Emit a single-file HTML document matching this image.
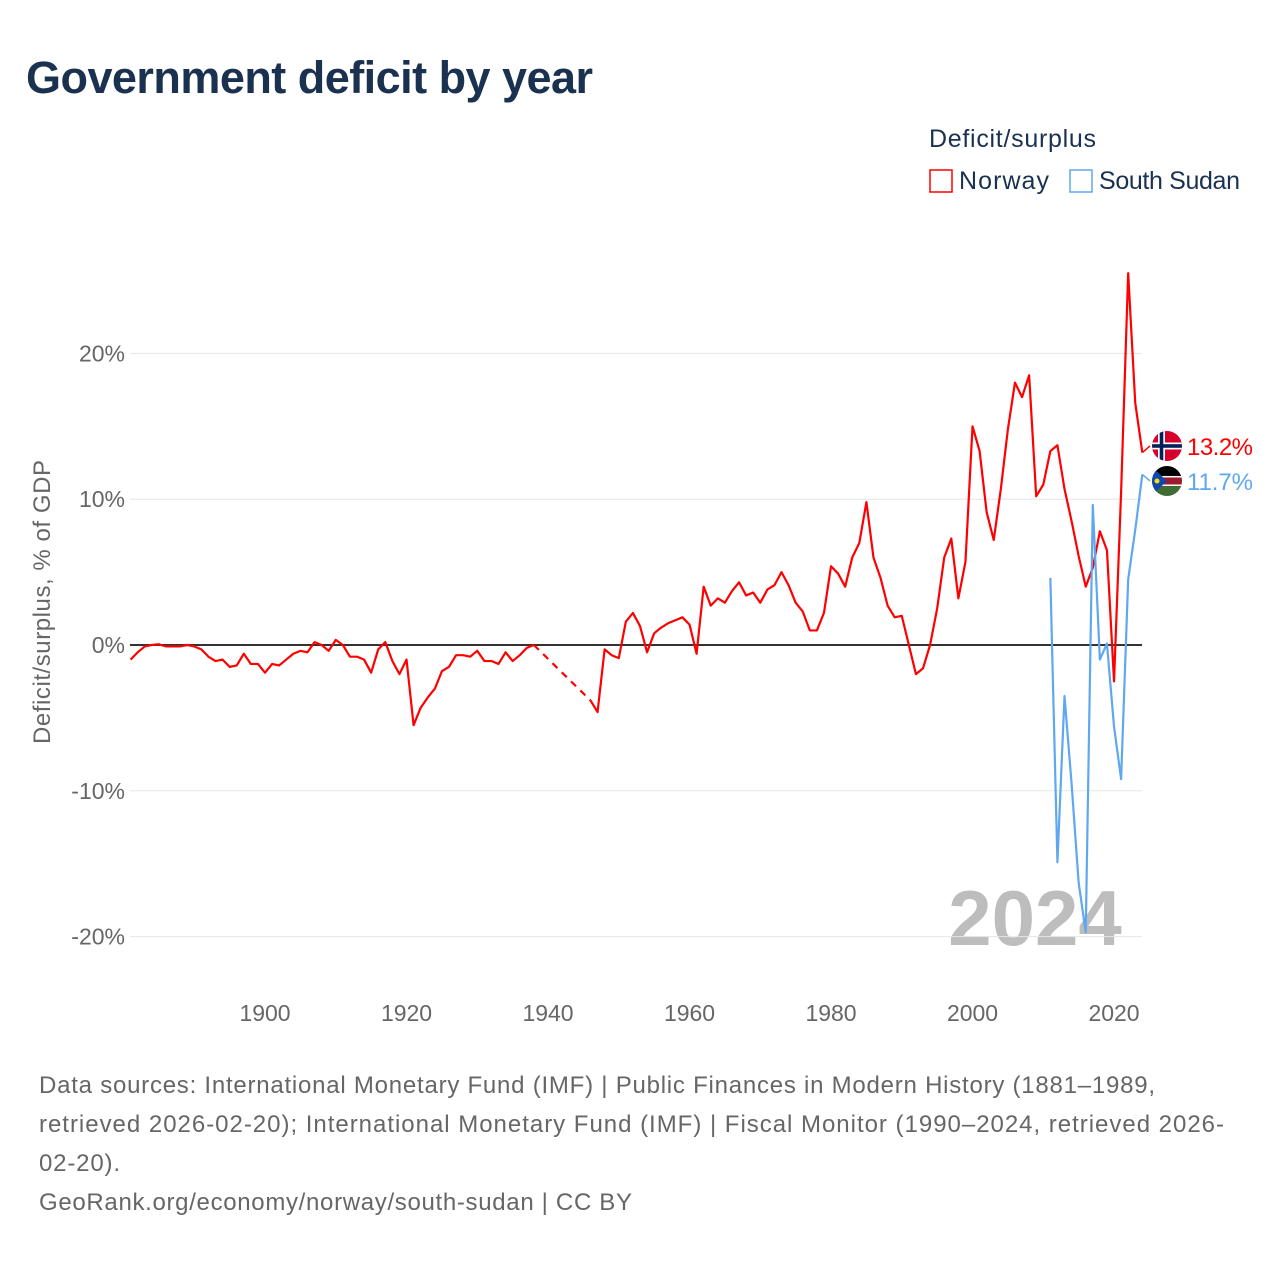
<!DOCTYPE html>
<html><head><meta charset="utf-8">
<style>
body{margin:0;background:#fff;width:1280px;height:1280px;overflow:hidden;font-family:"Liberation Sans",sans-serif;}
svg text{font-family:"Liberation Sans",sans-serif;}
</style></head>
<body>
<svg id="chart" width="1280" height="1280" xmlns="http://www.w3.org/2000/svg">
<text x="26" y="93" font-size="45" font-weight="bold" fill="#1a3150" textLength="567">Government deficit by year</text>
<g>
<text x="929" y="147" font-size="25" fill="#1a3150" textLength="167">Deficit/surplus</text>
<rect x="930" y="170" width="22" height="22" fill="none" stroke="#ff0000" stroke-width="1.5"/>
<text x="959" y="189" font-size="25" fill="#1a3150" textLength="90">Norway</text>
<rect x="1070" y="170" width="22" height="22" fill="none" stroke="#5fa8f0" stroke-width="1.5"/>
<text x="1099" y="189" font-size="25" fill="#1a3150" textLength="141">South Sudan</text>
</g>
<text transform="translate(50,602) rotate(-90)" text-anchor="middle" font-size="24" fill="#666" textLength="284">Deficit/surplus, % of GDP</text>
<text x="1035" y="945" text-anchor="middle" font-size="78" font-weight="bold" fill="#bdbdbd">2024</text>
<g id="grid"></g>
<g id="series"></g>
<g font-size="24" fill="#666">
<text x="39" y="1093" textLength="1116">Data sources: International Monetary Fund (IMF) | Public Finances in Modern History (1881–1989,</text>
<text x="39" y="1132" textLength="1185">retrieved 2026-02-20); International Monetary Fund (IMF) | Fiscal Monitor (1990–2024, retrieved 2026-</text>
<text x="39" y="1171" textLength="81">02-20).</text>
<text x="39" y="1210" textLength="593">GeoRank.org/economy/norway/south-sudan | CC BY</text>
</g>
</svg>
<script>
const yTicks=[20,10,0,-10,-20];
const xTicks=[1900,1920,1940,1960,1980,2000,2020];
const norwayStart=1881;
const norway=[-1.0,-0.5,-0.1,0,0.05,-0.1,-0.1,-0.1,0,-0.1,-0.3,-0.8,-1.1,-1.0,-1.5,-1.4,-0.6,-1.3,-1.3,-1.9,-1.3,-1.4,-1.0,-0.6,-0.4,-0.5,0.2,0.0,-0.4,0.35,0,-0.8,-0.8,-1.0,-1.9,-0.3,0.2,-1.1,-2.0,-1.0,-5.5,-4.3,-3.6,-3.0,-1.8,-1.5,-0.7,-0.7,-0.8,-0.4,-1.1,-1.1,-1.3,-0.5,-1.1,-0.7,-0.2,0.0,
null,null,null,null,null,null,null,-3.8,-4.6,-0.3,-0.7,-0.9,1.6,2.2,1.3,-0.5,0.8,1.2,1.5,1.7,1.9,1.4,-0.6,4.0,2.7,3.2,2.9,3.7,4.3,3.4,3.6,2.9,3.8,4.1,5.0,4.1,2.9,2.3,1.0,1.0,2.2,5.4,4.9,4.0,6.0,7.0,9.8,6.0,4.6,2.7,1.9,2.0,0.0,-2.0,-1.6,0.0,2.5,6.0,7.3,3.2,5.7,15.0,13.3,9.1,7.2,10.7,14.8,18.0,17.0,18.5,10.2,11.0,13.3,13.7,10.7,8.5,6.1,4.0,5.3,7.8,6.5,-2.5,10.5,25.5,16.6,13.2];
const sudanStart=2011;
const sudan=[4.6,-14.9,-3.5,-9.5,-16.3,-19.7,9.6,-1.0,0.1,-5.6,-9.2,4.5,7.9,11.7];
const NS="http://www.w3.org/2000/svg";
const X=y=>130.6+(y-1881)*7.075;
const Y=v=>645-v*14.58;
const grid=document.getElementById('grid'),ser=document.getElementById('series');
function mk(tag,attrs,parent){const e=document.createElementNS(NS,tag);for(const k in attrs)e.setAttribute(k,attrs[k]);parent.appendChild(e);return e;}
yTicks.forEach(t=>{
 const l=mk('line',{x1:130,x2:1142,y1:Y(t),y2:Y(t),stroke:t===0?'#333':'#e6e6e6','stroke-width':t===0?2:1},grid);
 
 
 const tx=mk('text',{x:125,y:Y(t)+8,'text-anchor':'end','font-size':23,fill:'#666'},grid);
 tx.textContent=t+'%';
 
 
});
xTicks.forEach(t=>{
 const tx=mk('text',{x:X(t),y:1021,'text-anchor':'middle','font-size':23,fill:'#666'},grid);
 tx.textContent=t;
 
 
});
function drawSeries(arr,start,color,name){
 let seg=[],segs=[],prev=null;
 arr.forEach((v,i)=>{
  if(v===null){if(seg.length)segs.push(seg);seg=[];return;}
  const p=[X(start+i),Y(v)];
  if(!seg.length&&prev){const d=mk('path',{d:`M${prev[0]},${prev[1]}L${p[0]},${p[1]}`,stroke:color,fill:'none','stroke-width':2.2,'stroke-dasharray':'7,6'},ser);
   
   }
  seg.push(p);prev=p;
 });
 if(seg.length)segs.push(seg);
 segs.forEach(s=>{const pth=mk('path',{d:'M'+s.map(p=>p.join(',')).join('L'),stroke:color,fill:'none','stroke-width':2.2,'stroke-linejoin':'round'},ser);
  
  });
}
drawSeries(norway,norwayStart,'#ff0000','norway');
drawSeries(sudan,sudanStart,'#5fa8f0','south-sudan');
// end labels (collision-separated)
const nv=norway[norway.length-1],sv=sudan[sudan.length-1];
let ny=Y(nv),sy=Y(sv);
const mid=(ny+sy)/2;
if(sy-ny<35){ny=mid-17.5;sy=mid+17.5;}
const nl=mk('path',{d:`M${X(2024)},${Y(nv)}L1150,${ny}`,stroke:'#ff0000',fill:'none','stroke-width':1.5},ser);


const sl=mk('path',{d:`M${X(2024)},${Y(sv)}L1150,${sy}`,stroke:'#5fa8f0',fill:'none','stroke-width':1.5},ser);


const fg=mk('g',{},ser);


mk('defs',{},fg).innerHTML='<clipPath id="cn"><circle cx="1167" cy="'+ny+'" r="15"/></clipPath><clipPath id="cs"><circle cx="1167" cy="'+sy+'" r="15"/></clipPath>';
const gn=mk('g',{'clip-path':'url(#cn)'},fg);
mk('rect',{x:1150,y:ny-16,width:34,height:32,fill:'#d6002a'},gn);
mk('rect',{x:1158,y:ny-16,width:7,height:32,fill:'#fff'},gn);
mk('rect',{x:1150,y:ny-3.5,width:34,height:7,fill:'#fff'},gn);
mk('rect',{x:1159.7,y:ny-16,width:3.6,height:32,fill:'#00205b'},gn);
mk('rect',{x:1150,y:ny-1.8,width:34,height:3.6,fill:'#00205b'},gn);
const sg=mk('g',{'clip-path':'url(#cs)'},ser);


mk('rect',{x:1150,y:sy-16,width:34,height:11,fill:'#000'},sg);
mk('rect',{x:1150,y:sy-5,width:34,height:10,fill:'#9c1a2c'},sg);
mk('rect',{x:1150,y:sy-5,width:34,height:1.5,fill:'#fff'},sg);
mk('rect',{x:1150,y:sy+3.5,width:34,height:1.5,fill:'#fff'},sg);
mk('rect',{x:1150,y:sy+5,width:34,height:11,fill:'#3e6c34'},sg);
mk('polygon',{points:`1150,${sy-16} 1167,${sy} 1150,${sy+16}`,fill:'#0f47af'},sg);
mk('circle',{cx:1157,cy:sy,r:2.5,fill:'#fcdd09'},sg);
const nt=mk('text',{x:1187,y:ny+9,'font-size':24,fill:'#ff0000',textLength:66},ser);
nt.textContent=nv.toFixed(1)+'%';


const st=mk('text',{x:1187,y:sy+9,'font-size':24,fill:'#5fa8f0',textLength:66},ser);
st.textContent=sv.toFixed(1)+'%';


</script>
</body></html>
